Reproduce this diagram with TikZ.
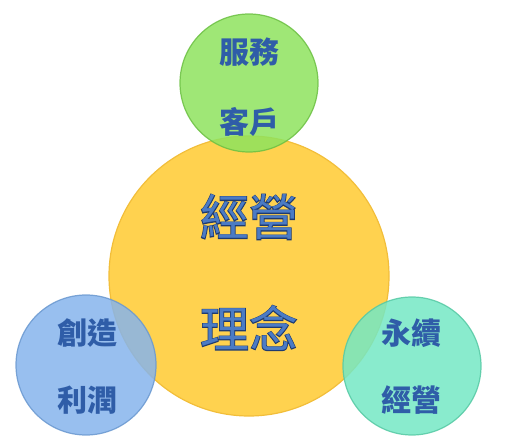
\documentclass[tikz,border=0pt]{standalone}
\usepackage{fontspec}
\usepackage{tikz}
\newfontfamily\cjk{Noto Sans CJK TC}
\newfontfamily\cjkthick[FakeBold=3]{Noto Sans CJK TC}
\definecolor{coreyellow}{HTML}{FFD24F}
\definecolor{coreedge}{HTML}{F2BE3A}
\definecolor{servegreen}{HTML}{8EE35E}
\definecolor{serveedge}{HTML}{6CC043}
\definecolor{profitblue}{HTML}{86B4EC}
\definecolor{profitedge}{HTML}{6A98D0}
\definecolor{lastteal}{HTML}{74E8C4}
\definecolor{lastedge}{HTML}{56C9A4}
\definecolor{textblue}{HTML}{2F5DA8}
\definecolor{inkblue}{HTML}{4B7BC4}
\definecolor{inkdark}{HTML}{1E3A70}

\tikzset{
  ball/.style={circle,inner sep=0pt,line width=1.2pt},
  word/.style={font=\cjk\bfseries\fontsize{30}{30}\selectfont,text=textblue,inner sep=0pt},
  bigword/.style={font=\cjkthick\fontsize{49}{49}\selectfont,text=inkdark,inner sep=0pt},
  bigfill/.style={font=\cjk\fontsize{49}{49}\selectfont,text=inkblue,inner sep=0pt}
}

\begin{document}
\begin{tikzpicture}[x=1pt,y=1pt]
    \useasboundingbox (0,0) rectangle (519,447);

    \node[ball,minimum size=280pt,fill=coreyellow,draw=coreedge] (core) at (249,171) {};
    \node[ball,minimum size=138pt,fill=servegreen,draw=serveedge,opacity=0.85] (serve) at (249,364) {};
    \node[ball,minimum size=140pt,fill=profitblue,draw=profitedge,opacity=0.85] (profit) at (86,82) {};
    \node[ball,minimum size=138pt,fill=lastteal,draw=lastedge,opacity=0.85] (last) at (412,81) {};

    % centre words
    \node[bigword] (core1o) at (249,230) {經營};
    \node[bigfill] (core1) at (249,230) {經營};
    \node[bigword] (core2o) at (249,119) {理念};
    \node[bigfill] (core2) at (249,119) {理念};

    \node[word] (serve1) at (249,395) {服務};
    \node[word] (serve2) at (249,325) {客戶};
    \node[word] (profit1) at (87,114) {創造};
    \node[word] (profit2) at (87,47) {利潤};
    \node[word] (last1) at (411,114) {永續};
    \node[word] (last2) at (411,47) {經營};

\end{tikzpicture}
\end{document}
